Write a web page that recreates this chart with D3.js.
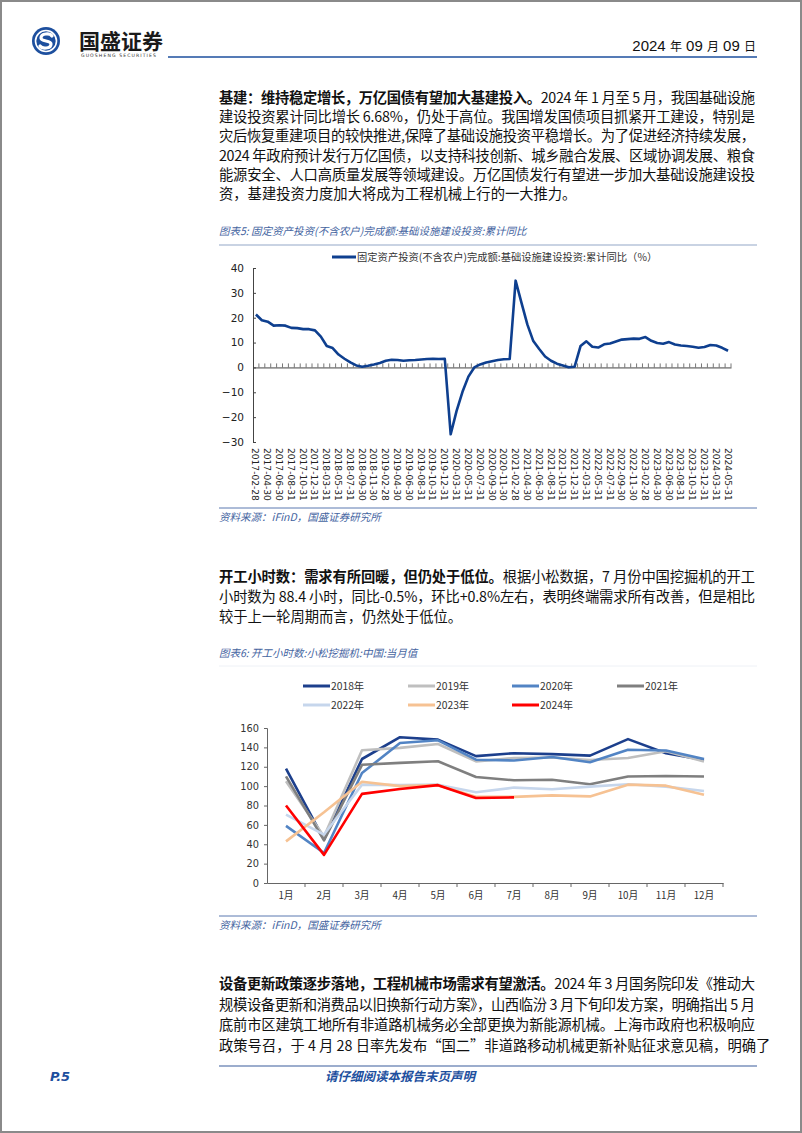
<!DOCTYPE html>
<html>
<head>
<meta charset="utf-8">
<script src="https://cdn.jsdelivr.net/npm/d3@7"></script>
<style>
html, body { margin: 0; padding: 0; background: #fff; }
svg { display: block; }
</style>
</head>
<body>
<svg id="page" width="802" height="1133"></svg>
<script>
// ---- chart 5: infrastructure investment, cumulative YoY (%) ----
const infraDates = [
  '2017-02-28','2017-03-31','2017-04-30','2017-05-31','2017-06-30','2017-07-31','2017-08-31','2017-09-30','2017-10-31','2017-11-30','2017-12-31',
  '2018-02-28','2018-03-31','2018-04-30','2018-05-31','2018-06-30','2018-07-31','2018-08-31','2018-09-30','2018-10-31','2018-11-30','2018-12-31',
  '2019-02-28','2019-03-31','2019-04-30','2019-05-31','2019-06-30','2019-07-31','2019-08-31','2019-09-30','2019-10-31','2019-11-30','2019-12-31',
  '2020-02-29','2020-03-31','2020-04-30','2020-05-31','2020-06-30','2020-07-31','2020-08-31','2020-09-30','2020-10-31','2020-11-30','2020-12-31',
  '2021-02-28','2021-03-31','2021-04-30','2021-05-31','2021-06-30','2021-07-31','2021-08-31','2021-09-30','2021-10-31','2021-11-30','2021-12-31',
  '2022-02-28','2022-03-31','2022-04-30','2022-05-31','2022-06-30','2022-07-31','2022-08-31','2022-09-30','2022-10-31','2022-11-30','2022-12-31',
  '2023-02-28','2023-03-31','2023-04-30','2023-05-31','2023-06-30','2023-07-31','2023-08-31','2023-09-30','2023-10-31','2023-11-30','2023-12-31',
  '2024-02-29','2024-03-31','2024-04-30','2024-05-31'
];
const infraYoY = [
  21.3, 19.0, 18.4, 16.8, 17.0, 16.8, 15.9, 15.8, 15.4, 15.4, 14.9,
  12.4, 8.6, 7.8, 5.2, 3.5, 2.0, 0.8, 0.3, 0.7, 1.2, 1.8,
  2.7, 3.1, 3.0, 2.7, 2.9, 3.0, 3.2, 3.4, 3.5, 3.4, 3.5,
  -26.9, -17.5, -9.8, -3.7, 0.0, 1.2, 2.0, 2.5, 3.0, 3.3, 3.4,
  34.9, 26.0, 17.2, 10.6, 7.4, 4.4, 2.7, 1.5, 0.8, 0.1, 0.3,
  8.6, 10.5, 8.3, 8.0, 9.3, 9.6, 10.4, 11.2, 11.4, 11.6, 11.5,
  12.2, 10.7, 9.8, 9.5, 10.2, 9.2, 8.8, 8.6, 8.3, 7.9, 8.2,
  9.0, 8.8, 7.9, 6.7
];
const infraTicks = [40, 30, 20, 10, 0, -10, -20, -30];
const infraLabels = infraDates.filter((d, i) => i % 2 === 0);

// ---- chart 6: Komatsu excavator working hours, monthly ----
const months = ['1月','2月','3月','4月','5月','6月','7月','8月','9月','10月','11月','12月'];
const hourYears = ['2018年','2019年','2020年','2021年','2022年','2023年','2024年'];
const hours2018 = [118, 45, 128, 150.5, 148, 131, 134, 133, 131.5, 148.5, 134, 127];
const hours2019 = [105, 48, 137, 139.5, 143.5, 125.5, 129, 129.5, 127, 129, 136, 125.5];
const hours2020 = [59, 31, 113.5, 144.5, 147.3, 127.3, 126.5, 130, 124.7, 137.5, 136.8, 128];
const hours2021 = [110, 44, 122, 124, 125.6, 109.4, 106, 106.6, 102, 110, 110.5, 110];
const hours2022 = [70.5, 50, 101.5, 101, 101.5, 93.6, 98.5, 96.8, 99.5, 102, 99.5, 95];
const hours2023 = [43, 73, 104.5, 100, 101, 89, 88.9, 90.5, 89.4, 101.5, 100.5, 91];
const hours2024 = [80, 29, 92, 97, 101, 87.7, 88.4];
const hourColors = ['#1c3f8c', '#bfbfbf', '#5284c4', '#7f7f7f', '#c6d6ec', '#f6c293', '#ff0000'];
const hourTicks = [0, 20, 40, 60, 80, 100, 120, 140, 160];

const CJK = '"Noto Sans CJK SC", sans-serif';
const NUM = '"DejaVu Sans", Verdana, sans-serif';
const blueText = '#44649f';

const svg = d3.select('#page');

// page frame
svg.append('rect').attr('x', 1).attr('y', 1).attr('width', 800).attr('height', 1131)
  .attr('fill', '#fff').attr('stroke', '#8a8a8a').attr('stroke-width', 2);

// ---- header ----
const logo = svg.append('g').attr('transform', 'translate(46,41)');
logo.append('circle').attr('r', 14).attr('fill', '#1d4f9e');
logo.append('circle').attr('r', 10.5).attr('fill', 'none').attr('stroke', '#fff').attr('stroke-width', 1.6);
logo.append('path')
  .attr('d', 'M6,-5 C4,-8 -5,-8 -5,-3 C-5,1 5,-1 5,3 C5,8 -4,8 -6,5')
  .attr('fill', 'none').attr('stroke', '#fff').attr('stroke-width', 3.2).attr('stroke-linecap', 'round');
svg.append('text').attr('x', 79).attr('y', 49).attr('font-family', CJK).attr('font-weight', 700)
  .attr('font-size', 21).attr('fill', '#1a1a1a').text('国盛证券');
svg.append('text').attr('x', 81).attr('y', 57).attr('font-family', NUM).attr('font-size', 4.6)
  .attr('letter-spacing', 1.1).attr('fill', '#333').text('GUOSHENG SECURITIES');
svg.append('text').attr('x', 756).attr('y', 51).attr('text-anchor', 'end')
  .attr('font-family', '"Liberation Sans Narrow", "Liberation Sans", sans-serif').attr('font-size', 15)
  .attr('fill', '#111')
  .html('2024 <tspan font-family=\'"Noto Sans CJK SC"\' font-size="12">年</tspan> 09 <tspan font-family=\'"Noto Sans CJK SC"\' font-size="12">月</tspan> 09 <tspan font-family=\'"Noto Sans CJK SC"\' font-size="12">日</tspan>');
svg.append('line').attr('x1', 168).attr('x2', 757).attr('y1', 57).attr('y2', 57)
  .attr('stroke', '#1d4f9e').attr('stroke-width', 1.6);

// ---- body paragraphs ----
function paragraph(lines, y0, lh) {
  lines.forEach((ln, i) => {
    const t = svg.append('text').attr('x', 219).attr('y', y0 + i * lh)
      .attr('font-family', CJK).attr('font-size', 14.3).attr('fill', '#111');
    if (ln.b) t.append('tspan').attr('font-weight', 700).text(ln.b);
    if (ln.t) t.append('tspan').text(ln.t);
    if (i < lines.length - 1) t.attr('textLength', 536).attr('lengthAdjust', 'spacing');
  });
}

paragraph([
  { b: '基建：维持稳定增长，万亿国债有望加大基建投入。', t: '2024 年 1 月至 5 月，我国基础设施' },
  { t: '建设投资累计同比增长 6.68%，仍处于高位。我国增发国债项目抓紧开工建设，特别是' },
  { t: '灾后恢复重建项目的较快推进,保障了基础设施投资平稳增长。为了促进经济持续发展，' },
  { t: '2024 年政府预计发行万亿国债，以支持科技创新、城乡融合发展、区域协调发展、粮食' },
  { t: '能源安全、人口高质量发展等领域建设。万亿国债发行有望进一步加大基础设施建设投' },
  { t: '资，基建投资力度加大将成为工程机械上行的一大推力。' }
], 103, 19.2);

paragraph([
  { b: '开工小时数：需求有所回暖，但仍处于低位。', t: '根据小松数据，7 月份中国挖掘机的开工' },
  { t: '小时数为 88.4 小时，同比-0.5%，环比+0.8%左右，表明终端需求所有改善，但是相比' },
  { t: '较于上一轮周期而言，仍然处于低位。' }
], 582, 20);

paragraph([
  { b: '设备更新政策逐步落地，工程机械市场需求有望激活。', t: '2024 年 3 月国务院印发《推动大' },
  { t: '规模设备更新和消费品以旧换新行动方案》，山西临汾 3 月下旬印发方案，明确指出 5 月' },
  { t: '底前市区建筑工地所有非道路机械务必全部更换为新能源机械。上海市政府也积极响应' },
  { t: '政策号召，于 4 月 28 日率先发布“国二”非道路移动机械更新补贴征求意见稿，明确了' }
], 989, 20.5);

// ---- figure captions / sources ----
function caption(text, y, lineY, lineColor, lineW) {
  svg.append('text').attr('x', 219).attr('y', y).attr('font-family', CJK).attr('font-style', 'italic')
    .attr('font-size', 10.5).attr('fill', blueText).text(text);
  svg.append('line').attr('x1', 219).attr('x2', 757).attr('y1', lineY).attr('y2', lineY)
    .attr('stroke', lineColor).attr('stroke-width', lineW);
}
function source(y, lineY) {
  svg.append('line').attr('x1', 219).attr('x2', 757).attr('y1', lineY).attr('y2', lineY)
    .attr('stroke', '#5a78b0').attr('stroke-width', 1);
  svg.append('text').attr('x', 219).attr('y', y).attr('font-family', CJK).attr('font-style', 'italic')
    .attr('font-size', 10.5).attr('fill', blueText).text('资料来源：iFinD，国盛证券研究所');
}

caption('图表5: 固定资产投资(不含农户)完成额:基础设施建设投资:累计同比', 235, 245, '#c9d3e3', 2);
source(521, 508);
caption('图表6: 开工小时数:小松挖掘机:中国:当月值', 657, 666, '#eef1f6', 1);
source(929, 916);

// ---- chart 5 ----
const c1 = svg.append('g');
const x1 = d3.scaleBand().domain(infraDates).range([253, 731]);
const y1 = d3.scaleLinear().domain([-30, 40]).range([442, 268]);

c1.append('g').attr('transform', 'translate(253,0)')
  .call(d3.axisLeft(y1).tickValues(infraTicks).tickSize(-3).tickPadding(9).tickFormat(d3.format('d')))
  .call(g => g.select('.domain').attr('stroke', '#444'))
  .call(g => g.selectAll('.tick line').attr('stroke', '#444'))
  .call(g => g.selectAll('text').attr('font-family', NUM).attr('font-size', 10.5).attr('fill', '#222'));

const xAxis1 = c1.append('g').attr('transform', `translate(0,${y1(0)})`)
  .call(d3.axisBottom(x1).tickSize(0).tickFormat(''));
xAxis1.select('.domain').attr('stroke', '#444');
xAxis1.selectAll('.tick').remove();
// category separators on the zero line
c1.append('g').selectAll('line').data(infraDates).join('line')
  .attr('x1', d => x1(d) + x1.bandwidth()).attr('x2', d => x1(d) + x1.bandwidth())
  .attr('y1', y1(0)).attr('y2', y1(0) - 4).attr('stroke', '#555').attr('stroke-width', 0.8);

// rotated date labels below the plot
c1.append('g').selectAll('text').data(infraLabels).join('text')
  .attr('transform', d => `translate(${x1(d) + x1.bandwidth() / 2 - 3.5},448) rotate(90)`)
  .attr('font-family', NUM).attr('font-size', 9.1).attr('fill', '#222').text(d => d);

c1.append('path').datum(infraDates.map((d, i) => [d, infraYoY[i]]))
  .attr('fill', 'none').attr('stroke', '#0e3f8f').attr('stroke-width', 2.6).attr('stroke-linejoin', 'round')
  .attr('d', d3.line().x(d => x1(d[0]) + x1.bandwidth() / 2).y(d => y1(d[1])));

// legend
c1.append('line').attr('x1', 332).attr('x2', 356).attr('y1', 257).attr('y2', 257)
  .attr('stroke', '#0e3f8f').attr('stroke-width', 3);
c1.append('text').attr('x', 357).attr('y', 261).attr('font-family', CJK).attr('font-size', 10.3)
  .attr('fill', '#333').text('固定资产投资(不含农户)完成额:基础设施建设投资:累计同比（%）');

// ---- chart 6 ----
const c2 = svg.append('g');
const x2 = d3.scaleBand().domain(months).range([267, 723]);
const y2 = d3.scaleLinear().domain([0, 160]).range([883, 728]);

c2.append('g').attr('transform', 'translate(267,0)')
  .call(d3.axisLeft(y2).tickValues(hourTicks).tickSize(3).tickPadding(5))
  .call(g => g.select('.domain').attr('stroke', '#666'))
  .call(g => g.selectAll('.tick line').attr('stroke', '#666'))
  .call(g => g.selectAll('text').attr('font-family', NUM).attr('font-size', 9.8).attr('fill', '#333'));

const xAxis2 = c2.append('g').attr('transform', 'translate(0,883)')
  .call(d3.axisBottom(x2).tickSize(0).tickPadding(9));
xAxis2.select('.domain').attr('stroke', '#666');
xAxis2.selectAll('text').attr('font-family', CJK).attr('font-size', 9.8).attr('fill', '#333');
c2.append('g').selectAll('line').data(months).join('line')
  .attr('x1', d => x2(d) + x2.bandwidth()).attr('x2', d => x2(d) + x2.bandwidth())
  .attr('y1', 883).attr('y2', 887).attr('stroke', '#666');

const hourSeries = [hours2018, hours2019, hours2020, hours2021, hours2022, hours2023, hours2024];
const line2 = d3.line().x((d, i) => x2(months[i]) + x2.bandwidth() / 2).y(d => y2(d));
hourSeries.forEach((vals, k) => {
  c2.append('path').datum(vals).attr('fill', 'none').attr('stroke', hourColors[k])
    .attr('stroke-width', 2.6).attr('stroke-linejoin', 'round').attr('d', line2);
});

// legend: 4 per row
const legX = [303, 408, 512, 617];
hourYears.forEach((yr, k) => {
  const lx = legX[k % 4], ly = k < 4 ? 686 : 705;
  c2.append('line').attr('x1', lx).attr('x2', lx + 27).attr('y1', ly).attr('y2', ly)
    .attr('stroke', hourColors[k]).attr('stroke-width', 3);
  c2.append('text').attr('x', lx + 28).attr('y', ly + 4).attr('font-family', CJK).attr('font-size', 10.3)
    .attr('fill', '#333').text(yr);
});

// ---- footer ----
svg.append('line').attr('x1', 219).attr('x2', 757).attr('y1', 1066).attr('y2', 1066)
  .attr('stroke', '#3a5c9c').attr('stroke-width', 1.2);
svg.append('text').attr('x', 50).attr('y', 1081).attr('font-family', NUM).attr('font-weight', 700)
  .attr('font-style', 'italic').attr('font-size', 13).attr('fill', '#1d4f9e').text('P.5');
svg.append('text').attr('x', 400).attr('y', 1081).attr('text-anchor', 'middle').attr('font-family', CJK)
  .attr('font-style', 'italic').attr('font-weight', 700).attr('font-size', 12.5).attr('fill', '#1d4f9e')
  .text('请仔细阅读本报告末页声明');
</script>
</body>
</html>
